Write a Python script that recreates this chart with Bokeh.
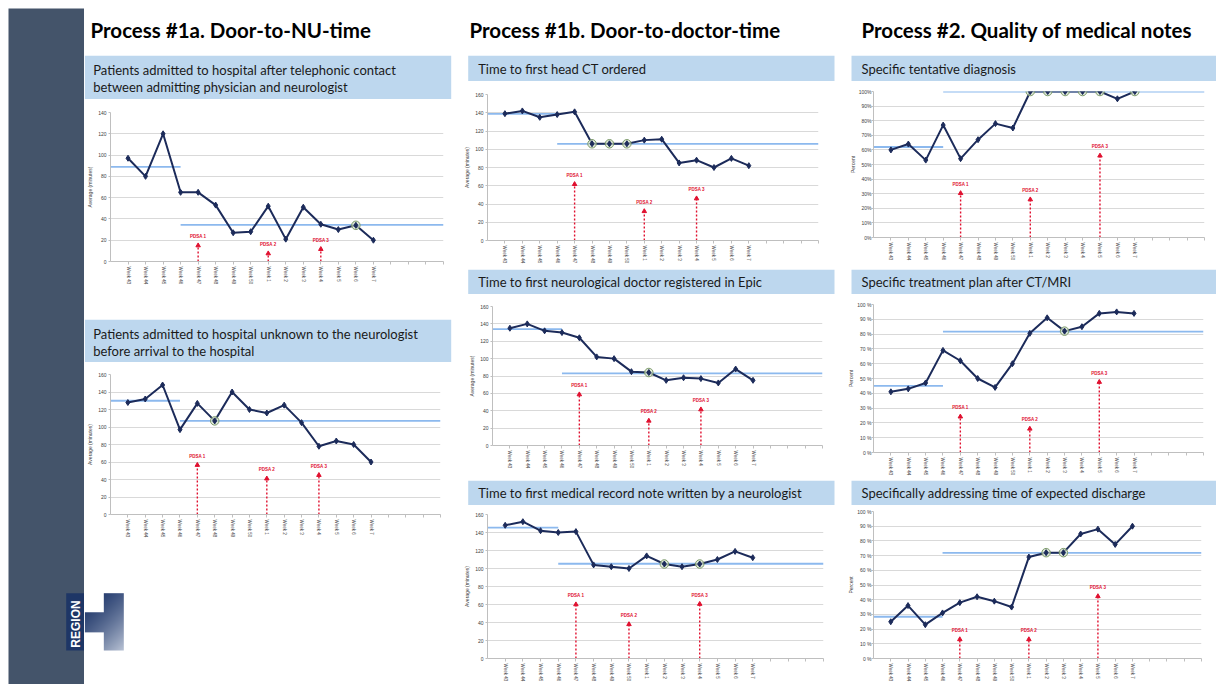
import math
import numpy as np
from bokeh.plotting import figure
from bokeh.layouts import row, column
from bokeh.models import Range1d, FixedTicker, Spacer
from bokeh.core.properties import value
from bokeh.embed import file_html
from bokeh.resources import INLINE

# ---------------- data ----------------
WEEKS = ["Week 43", "Week 44", "Week 45", "Week 46", "Week 47", "Week 48", "Week 49",
         "Week 50", "Week 1", "Week 2", "Week 3", "Week 4", "Week 5", "Week 6", "Week 7"]
EMPTY_SLOTS = 4
BREAK_WEEK = "Week 46"
PDSA_LABELS = ["PDSA 1", "PDSA 2", "PDSA 3"]

SECTION_TITLES = ["Process #1a. Door-to-NU-time",
                  "Process #1b. Door-to-doctor-time",
                  "Process #2. Quality of medical notes"]

# 1a-1
NU_PHONE_TITLE = ["Patients admitted to hospital after telephonic contact",
                  "between admitting physician and neurologist"]
NU_PHONE_VALUES = [97, 80, 120, 65, 65, 53, 27, 28, 52, 21, 51, 35, 30, 34, 20]
NU_PHONE_MEDIANS = [89, 34.5]
NU_PHONE_CIRCLED = ["Week 6"]
NU_PHONE_PDSA_WEEKS = ["Week 47", "Week 1", "Week 4"]
NU_PHONE_PDSA_TOPS = [15, 7.5, 11.6]

# 1a-2
NU_UNKNOWN_TITLE = ["Patients admitted to hospital unknown to the neurologist",
                    "before arrival to the hospital"]
NU_UNKNOWN_VALUES = [128, 132, 148, 97, 127, 107, 140, 120, 116, 125, 105, 78, 84, 80, 60]
NU_UNKNOWN_MEDIANS = [130, 107]
NU_UNKNOWN_CIRCLED = ["Week 48"]
NU_UNKNOWN_PDSA_WEEKS = ["Week 47", "Week 1", "Week 4"]
NU_UNKNOWN_PDSA_TOPS = [56.5, 41, 45]

# 1b-1
CT_TITLE = "Time to first head CT ordered"
CT_VALUES = [139, 142, 135, 138, 141, 106, 106, 106, 110, 111, 85, 88, 80, 90, 82]
CT_MEDIANS = [138.7, 106]
CT_CIRCLED = ["Week 48", "Week 49", "Week 50"]
CT_PDSA_WEEKS = ["Week 47", "Week 1", "Week 4"]
CT_PDSA_TOPS = [61.7, 32, 46]

# 1b-2
DOC_TITLE = "Time to first neurological doctor registered in Epic"
DOC_VALUES = [135, 140, 132, 130, 124, 102, 100, 85, 84, 75, 78, 77, 72, 88, 75]
DOC_MEDIANS = [134, 83]
DOC_CIRCLED = ["Week 1"]
DOC_PDSA_WEEKS = ["Week 47", "Week 1", "Week 4"]
DOC_PDSA_TOPS = [58.7, 28.4, 41.4]

# 1b-3
NOTE_TITLE = "Time to first medical record note written by a neurologist"
NOTE_VALUES = [148, 152, 142, 140, 141, 104, 102, 100, 114, 105, 102, 105, 110, 119, 112]
NOTE_MEDIANS = [145.4, 105.3]
NOTE_CIRCLED = ["Week 2", "Week 4"]
NOTE_PDSA_WEEKS = ["Week 47", "Week 50", "Week 4"]
NOTE_PDSA_TOPS = [60, 38, 60.5]

# 2-1
DIAG_TITLE = "Specific tentative diagnosis"
DIAG_VALUES = [60, 64, 53, 77, 54, 67, 78, 75, 100, 100, 100, 100, 100, 95, 100]
DIAG_MEDIANS = [62, 100]
DIAG_CIRCLED = ["Week 1", "Week 2", "Week 3", "Week 4", "Week 5", "Week 7"]
DIAG_PDSA_WEEKS = ["Week 47", "Week 1", "Week 5"]
DIAG_PDSA_TOPS = [30.3, 26, 56]

# 2-2
PLAN_TITLE = "Specific treatment plan after CT/MRI"
PLAN_VALUES = [41, 43, 47, 69, 62, 50, 44, 60, 80.5, 91, 82, 85, 94, 95, 94]
PLAN_MEDIANS = [45, 81.7]
PLAN_CIRCLED = ["Week 3"]
PLAN_PDSA_WEEKS = ["Week 47", "Week 1", "Week 5"]
PLAN_PDSA_TOPS = [24.2, 16, 47.6]

# 2-3
DISCH_TITLE = "Specifically addressing time of expected discharge"
DISCH_VALUES = [25, 36, 23, 31, 38, 42, 39, 35, 69, 72, 72, 84.7, 88, 77.6, 90]
DISCH_MEDIANS = [28.4, 71.9]
DISCH_CIRCLED = ["Week 2", "Week 3"]
DISCH_PDSA_WEEKS = ["Week 47", "Week 1", "Week 5"]
DISCH_PDSA_TOPS = [13, 13, 42.3]

MIN_TICKS_140 = [0, 20, 40, 60, 80, 100, 120, 140]
MIN_LABELS_140 = ["0", "20", "40", "60", "80", "100", "120", "140"]
MIN_TICKS_160 = [0, 20, 40, 60, 80, 100, 120, 140, 160]
MIN_LABELS_160 = ["0", "20", "40", "60", "80", "100", "120", "140", "160"]
PCT_TICKS = [0, 10, 20, 30, 40, 50, 60, 70, 80, 90, 100]
PCT_LABELS_A = ["0%", "10%", "20%", "30%", "40%", "50%", "60%", "70%", "80%", "90%", "100%"]
PCT_LABELS_B = ["0 %", "10 %", "20 %", "30 %", "40 %", "50 %", "60 %", "70 %", "80 %", "90 %", "100 %"]

# ---------------- style ----------------
SLATE = "#44546A"
BANNER = "#BDD7EE"
NAVY = "#1C2B5A"
MEDIAN = "#8CB9EE"
RED = "#E0102F"
GRID = "#D9D9D9"
AXIS = "#BFBFBF"
TICKTXT = "#404040"
CHART_FONT = "Liberation Sans"
SLIDE_FONT = "Lato"

TOTAL_H = 676


def canvas(w, h):
    p = figure(width=w, height=h, x_range=Range1d(0, w), y_range=Range1d(0, h),
               output_backend="svg", toolbar_location=None, tools="",
               x_axis_location=None, y_axis_location=None,
               min_border=0, min_border_left=0, min_border_right=0,
               min_border_top=0, min_border_bottom=0)
    p.grid.visible = False
    p.outline_line_color = None
    return p


def title_fig(w, h, text, x):
    p = canvas(w, h)
    p.text(x=[x], y=[h - 21.5], text=[text], text_font=value(SLIDE_FONT),
           text_font_style="bold", text_font_size="20.5px", text_color="#000000",
           text_align="left", text_baseline="middle")
    return p


def banner_fig(w, h, lines, left, right, text_x):
    p = canvas(w, h)
    p.quad(left=[left], right=[right], bottom=[0], top=[h], fill_color=BANNER, line_color=None)
    n = len(lines)
    if n == 1:
        ys = [h / 2]
    else:
        ys = [h - 14.3, h - 31]
    p.text(x=[text_x] * n, y=ys, text=lines, text_font=value(SLIDE_FONT),
           text_font_size="13px", text_color="#1A1A1A",
           text_align="left", text_baseline="middle")
    return p


def chart(w, h, borders, vals, medians, circled, pdsa_weeks, pdsa_tops,
          ticks, tick_labels, y_title, standoff=2):
    l, r, t, b = borders
    n_slots = len(WEEKS) + EMPTY_SLOTS
    p = figure(width=w, height=h, x_range=Range1d(0, n_slots),
               y_range=Range1d(0, ticks[-1]), output_backend="svg",
               toolbar_location=None, tools="",
               min_border_left=l, min_border_right=r,
               min_border_top=t, min_border_bottom=b)
    p.outline_line_color = None
    p.xgrid.visible = False
    p.ygrid.ticker = FixedTicker(ticks=ticks)
    p.ygrid.grid_line_color = GRID
    p.ygrid.grid_line_width = 1

    ya = p.yaxis[0]
    ya.ticker = FixedTicker(ticks=ticks)
    ya.major_label_overrides = {tk: lb for tk, lb in zip(ticks, tick_labels)}
    ya.axis_line_color = AXIS
    ya.major_tick_line_color = AXIS
    ya.major_tick_out = 2
    ya.major_tick_in = 0
    ya.minor_tick_line_color = None
    ya.major_label_text_font = CHART_FONT
    ya.major_label_text_font_size = "5px"
    ya.major_label_text_color = TICKTXT
    ya.major_label_standoff = standoff
    ya.axis_label = y_title
    ya.axis_label_text_font = CHART_FONT
    ya.axis_label_text_font_size = "5px"
    ya.axis_label_text_font_style = "normal"
    ya.axis_label_text_color = TICKTXT
    ya.axis_label_standoff = standoff

    xa = p.xaxis[0]
    slot_ticks = list(range(1, n_slots + 1))
    xa.ticker = FixedTicker(ticks=slot_ticks)
    overrides = {i + 1: wk for i, wk in enumerate(WEEKS)}
    for k in range(len(WEEKS) + 1, n_slots + 1):
        overrides[k] = ""
    xa.major_label_overrides = overrides
    xa.axis_line_color = AXIS
    xa.major_tick_line_color = AXIS
    xa.major_tick_out = 3
    xa.major_tick_in = 0
    xa.minor_tick_line_color = None
    xa.major_label_orientation = "vertical"
    xa.major_label_text_font = CHART_FONT
    xa.major_label_text_font_size = "4.5px"
    xa.major_label_text_color = TICKTXT
    xa.major_label_standoff = 2

    xs = [i + 1 for i in range(len(WEEKS))]
    bx = WEEKS.index(BREAK_WEEK) + 1
    p.segment(x0=[0, bx], y0=medians, x1=[bx, n_slots], y1=medians,
              line_color=MEDIAN, line_width=1.8)

    px = [WEEKS.index(wk) + 1 for wk in pdsa_weeks]
    p.segment(x0=px, y0=[0] * len(px), x1=px, y1=pdsa_tops,
              line_color=RED, line_width=1.4, line_dash="2 2")
    p.scatter(x=px, y=pdsa_tops, marker="triangle", size=4.5,
              fill_color=RED, line_color=RED)
    p.text(x=px, y=pdsa_tops, text=PDSA_LABELS[:len(px)], y_offset=-9,
           text_font=value(CHART_FONT), text_font_size="4.5px",
           text_font_style="bold", text_color=RED,
           text_align="center", text_baseline="middle")

    p.line(x=xs, y=vals, line_color=NAVY, line_width=2)
    cx = [WEEKS.index(wk) + 1 for wk in circled]
    cy = [vals[WEEKS.index(wk)] for wk in circled]
    p.scatter(x=cx, y=cy, marker="circle", size=8.5, fill_color="#D3E0C8",
              fill_alpha=0.7, line_color="#7C9A6A", line_width=1)
    p.scatter(x=xs, y=vals, marker="diamond", size=6, fill_color=NAVY, line_color=NAVY)
    return p


def stack(*children):
    # each child wrapped on its own so that plot frames are not aligned across the column
    return column(*[row(c, spacing=0) for c in children], spacing=0)


# ---------------- left strip with logo ----------------
strip = canvas(76, TOTAL_H)
strip.background_fill_color = SLATE
strip.border_fill_color = SLATE
strip.quad(left=[57.7], right=[76], bottom=[34], top=[91.3], fill_color="#1E3666", line_color=None)
strip.text(x=[67], y=[60.5], text=["REGION"], angle=math.pi / 2,
           text_font=value("Liberation Sans"), text_font_style="bold",
           text_font_size="12px", text_color="#FFFFFF",
           text_align="center", text_baseline="middle")

# right part of the H logo with a gradient (image)
SC = 3
LW, LH = 39.0, 57.3
wpx, hpx = int(LW * SC), int(LH * SC)
img = np.zeros((hpx, wpx), dtype=np.uint32)
view = img.view(dtype=np.uint8).reshape((hpx, wpx, 4))
dark = np.array([28, 52, 104], dtype=float)
light = np.array([186, 196, 214], dtype=float)
for rr in range(hpx):
    tt = (hpx - 1 - rr + 0.5) / SC
    for cc in range(wpx):
        c = (cc + 0.5) / SC
        inside = c >= 19.0 or (19.6 <= tt < 39.0)
        if not inside:
            continue
        u = c / LW
        v = tt / LH
        g = min(1.0, max(0.0, 0.4 * u + 0.6 * v)) ** 1.5
        col = dark * (1 - g) + light * g
        view[rr, cc, 0] = int(col[0])
        view[rr, cc, 1] = int(col[1])
        view[rr, cc, 2] = int(col[2])
        view[rr, cc, 3] = 255

logo = canvas(376, 124)
logo.image_rgba(image=[img], x=0.3, y=34, dw=LW, dh=LH)

# ---------------- column 1 ----------------
c1 = stack(
    title_fig(376, 47, SECTION_TITLES[0], 6),
    banner_fig(376, 44, NU_PHONE_TITLE, 0.3, 366.7, 8.7),
    chart(376, 220, (26, 17, 13, 58), NU_PHONE_VALUES, NU_PHONE_MEDIANS, NU_PHONE_CIRCLED,
          NU_PHONE_PDSA_WEEKS, NU_PHONE_PDSA_TOPS, MIN_TICKS_140, MIN_LABELS_140,
          "Average (minutes)"),
    banner_fig(376, 43, NU_UNKNOWN_TITLE, 0.3, 366.7, 8.7),
    chart(376, 198, (26, 20, 12, 46), NU_UNKNOWN_VALUES, NU_UNKNOWN_MEDIANS, NU_UNKNOWN_CIRCLED,
          NU_UNKNOWN_PDSA_WEEKS, NU_UNKNOWN_PDSA_TOPS, MIN_TICKS_160, MIN_LABELS_160,
          "Average (minutes)"),
    logo,
)

# ---------------- column 2 ----------------
c2 = stack(
    title_fig(385, 47, SECTION_TITLES[1], 9),
    banner_fig(385, 26, [CT_TITLE], 7.7, 374, 17.7),
    chart(385, 188, (27, 27, 13, 29), CT_VALUES, CT_MEDIANS, CT_CIRCLED,
          CT_PDSA_WEEKS, CT_PDSA_TOPS, MIN_TICKS_160, MIN_LABELS_160, "Average (minutes)"),
    banner_fig(385, 25, [DOC_TITLE], 7.7, 374, 17.7),
    chart(385, 186, (32, 23, 12, 35), DOC_VALUES, DOC_MEDIANS, DOC_CIRCLED,
          DOC_PDSA_WEEKS, DOC_PDSA_TOPS, MIN_TICKS_160, MIN_LABELS_160, "Average (minutes)"),
    banner_fig(385, 25, [NOTE_TITLE], 7.7, 374, 17.7),
    chart(385, 179, (27, 22, 9, 24), NOTE_VALUES, NOTE_MEDIANS, NOTE_CIRCLED,
          NOTE_PDSA_WEEKS, NOTE_PDSA_TOPS, MIN_TICKS_160, MIN_LABELS_160, "Average (minutes)"),
)

# ---------------- column 3 ----------------
c3 = stack(
    title_fig(371, 47, SECTION_TITLES[2], 16),
    banner_fig(371, 26, [DIAG_TITLE], 6, 371, 16),
    chart(371, 188, (28, 12, 10, 32), DIAG_VALUES, DIAG_MEDIANS, DIAG_CIRCLED,
          DIAG_PDSA_WEEKS, DIAG_PDSA_TOPS, PCT_TICKS, PCT_LABELS_A, "Percent", standoff=0),
    banner_fig(371, 25, [PLAN_TITLE], 6, 371, 16),
    chart(371, 186, (28, 13, 10, 28), PLAN_VALUES, PLAN_MEDIANS, PLAN_CIRCLED,
          PLAN_PDSA_WEEKS, PLAN_PDSA_TOPS, PCT_TICKS, PCT_LABELS_B, "Percent", standoff=0),
    banner_fig(371, 25, [DISCH_TITLE], 6, 371, 16),
    chart(371, 179, (28, 15, 6, 24), DISCH_VALUES, DISCH_MEDIANS, DISCH_CIRCLED,
          DISCH_PDSA_WEEKS, DISCH_PDSA_TOPS, PCT_TICKS, PCT_LABELS_B, "Percent", standoff=0),
)

body = row(Spacer(width=8, height=TOTAL_H), strip, c1, c2, c3, spacing=0)
page = column(Spacer(width=1216, height=8), body, spacing=0)

open("out.html", "w").write(file_html(page, INLINE))
